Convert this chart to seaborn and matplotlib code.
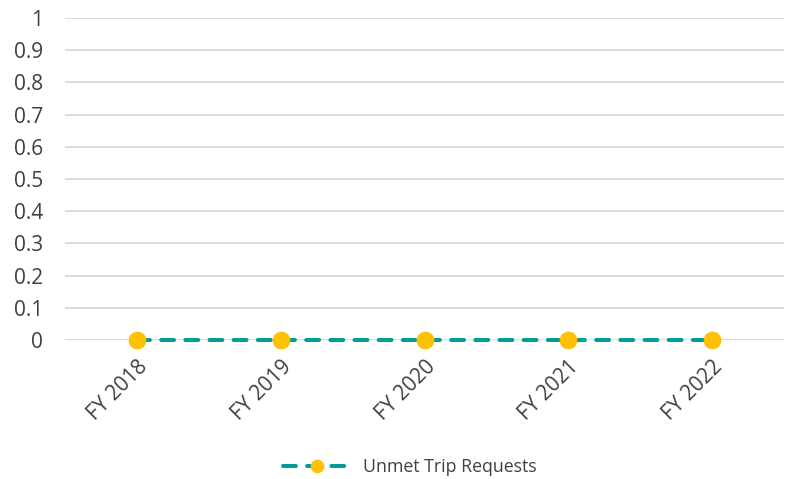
import pandas as pd
import matplotlib.pyplot as plt
import seaborn as sns

# Data
years = ["FY 2018", "FY 2019", "FY 2020", "FY 2021", "FY 2022"]
unmet_requests = [0, 0, 0, 0, 0]
series_name = "Unmet Trip Requests"

df = pd.DataFrame({"Year": years, "Requests": unmet_requests})

sns.set_style("white")
plt.rcParams['font.family'] = ['Open Sans', 'DejaVu Sans']

fig = plt.figure(figsize=(7.89, 4.79), dpi=100)
ax = fig.add_axes([0.0824, 0.2902, 0.9113, 0.6722])

sns.lineplot(data=df, x="Year", y="Requests", ax=ax, color="#009E96",
             linewidth=2.9, linestyle=(0, (3.2, 2.8)), dash_capstyle="round",
             marker="o", markersize=12, markerfacecolor="#FFC000",
             markeredgecolor="#FFC000", label=series_name, zorder=3)

# Axes styling
ax.set_xlim(-0.5, len(years) - 0.5)
ax.set_ylim(0, 1)
ax.set_yticks([i / 10 for i in range(11)])
ax.set_yticklabels(["0"] + [f"{i / 10:.1f}" for i in range(1, 10)] + ["1"])
ax.yaxis.grid(True, color="#D9D9D9", linewidth=1.3)
ax.set_axisbelow(True)
for s in ax.spines.values():
    s.set_visible(False)
ax.set_xlabel("")
ax.set_ylabel("")
ax.tick_params(axis="y", length=0, pad=16, labelsize=15, labelcolor="#404040")
ax.tick_params(axis="x", length=0, pad=12, labelsize=15, labelcolor="#404040")
plt.setp(ax.get_xticklabels(), rotation=45, ha="right", rotation_mode="anchor")
for line in ax.lines:
    line.set_clip_on(False)

# Legend at the bottom
leg = ax.legend(loc="center", bbox_to_anchor=(0.48, -0.394), frameon=False,
                fontsize=12.8, handlelength=3.8, handletextpad=0.7,
                labelcolor="#404040")
for h in leg.get_lines():
    h.set_markersize(9)

plt.savefig("out.png", dpi=100)
